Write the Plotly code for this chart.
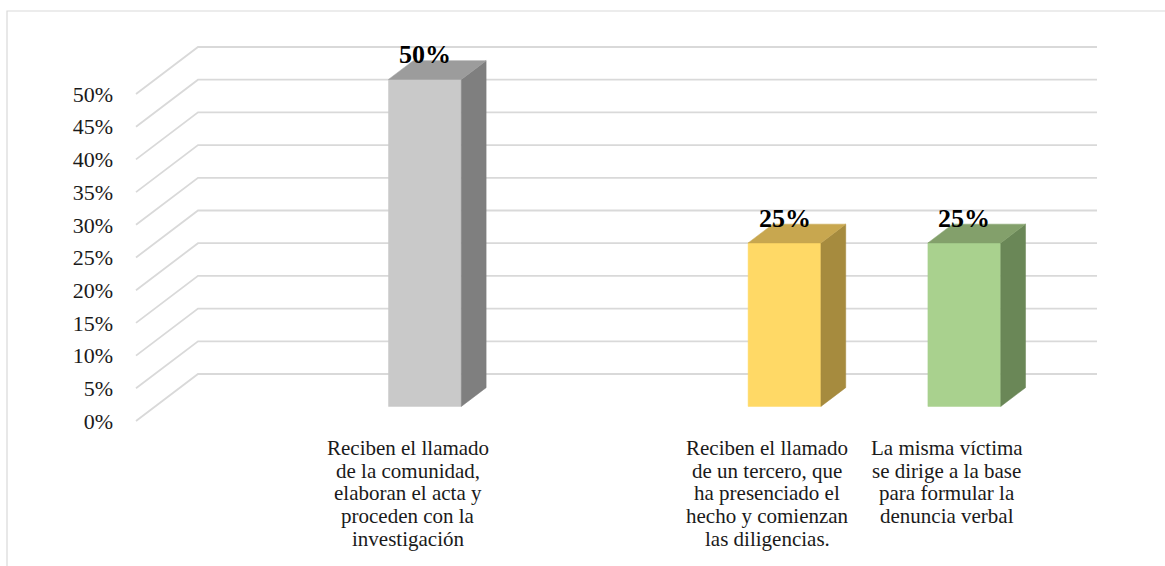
import plotly.graph_objects as go

# ---- data -------------------------------------------------------------
categories = [
    "",
    "Reciben el llamado<br>de la comunidad,<br>elaboran el acta y<br>proceden con la<br>investigación",
    "",
    "Reciben el llamado<br>de un tercero, que<br>ha presenciado el<br>hecho y comienzan<br>las diligencias.",
    "La misma víctima<br>se dirige a la base<br>para formular la<br>denuncia verbal",
]
values = [None, 50, None, 25, 25]          # percent
tick_values = [0, 5, 10, 15, 20, 25, 30, 35, 40, 45, 50]

front_colors = [None, "#C9C9C9", None, "#FFD966", "#A9D18E"]
side_colors = [None, "#7F7F7F", None, "#A68B3E", "#6A8757"]
top_colors = [None, "#9C9C9C", None, "#C8A74F", "#83A06B"]

# ---- layout geometry ----------------------------------------------------
W, H = 1165, 566
ML, MR, MT, MB = 130, 60, 40, 136
PX_PER_CAT = 179.8
PX_PER_PCT = 6.54
ZERO_PX = 421                      # pixel row of 0% on the front plane
DEPTH_X = 62 / PX_PER_CAT          # oblique offset of the back wall (category units)
DEPTH_Y = 47 / PX_PER_PCT          # oblique offset of the back wall (percent units)
BAR_W = 0.405
D_FRONT, D_BACK = 0.31, 0.71       # depth slice occupied by the columns

FONT = "Liberation Serif, Times New Roman, serif"

plot_w = W - ML - MR
plot_h = H - MT - MB
x0 = -0.5 - (136 - ML) / PX_PER_CAT
x_range = [x0, x0 + plot_w / PX_PER_CAT]
y_bottom = -((H - MB) - ZERO_PX) / PX_PER_PCT
y_range = [y_bottom, y_bottom + plot_h / PX_PER_PCT]

n = len(categories)
fig = go.Figure()

# ---- back wall gridlines with oblique floor-to-wall connectors ------------
shapes = []
for t in tick_values:
    path = (f"M {-0.5},{t} L {-0.5 + DEPTH_X},{t + DEPTH_Y} "
            f"L {n - 0.5 + DEPTH_X},{t + DEPTH_Y}")
    shapes.append(dict(type="path", path=path, xref="x", yref="y",
                       line=dict(color="#D9D9D9", width=1.8), layer="below"))

# chart frame
shapes.append(dict(type="rect", xref="paper", yref="paper",
                   x0=(7 - ML) / plot_w, x1=1 + (MR + 20) / plot_w,
                   y0=-(MB + 20) / plot_h, y1=1 + (MT - 11) / plot_h,
                   line=dict(color="#D9D9D9", width=1.2), layer="below"))

# ---- columns ----------------------------------------------------------
annotations = []
for i, v in enumerate(values):
    if v is None:
        continue
    xl_f = i - BAR_W / 2 + D_FRONT * DEPTH_X
    xr_f = i + BAR_W / 2 + D_FRONT * DEPTH_X
    xl_b = i - BAR_W / 2 + D_BACK * DEPTH_X
    xr_b = i + BAR_W / 2 + D_BACK * DEPTH_X
    yb_f = D_FRONT * DEPTH_Y
    yb_b = D_BACK * DEPTH_Y
    yt_f = v + D_FRONT * DEPTH_Y
    yt_b = v + D_BACK * DEPTH_Y

    # front face
    fig.add_trace(go.Scatter(
        x=[xl_f, xr_f, xr_f, xl_f, xl_f], y=[yb_f, yb_f, yt_f, yt_f, yb_f],
        fill="toself", fillcolor=front_colors[i], mode="lines",
        line=dict(width=0.5, color=front_colors[i]), hoverinfo="skip",
        showlegend=False))
    # side face
    fig.add_trace(go.Scatter(
        x=[xr_f, xr_b, xr_b, xr_f, xr_f], y=[yb_f, yb_b, yt_b, yt_f, yb_f],
        fill="toself", fillcolor=side_colors[i], mode="lines",
        line=dict(width=0.5, color=side_colors[i]), hoverinfo="skip",
        showlegend=False))
    # top face
    fig.add_trace(go.Scatter(
        x=[xl_f, xr_f, xr_b, xl_b, xl_f], y=[yt_f, yt_f, yt_b, yt_b, yt_f],
        fill="toself", fillcolor=top_colors[i], mode="lines",
        line=dict(width=0.5, color=top_colors[i]), hoverinfo="skip",
        showlegend=False))

    # value label
    annotations.append(dict(
        x=i + D_FRONT * DEPTH_X, y=yt_f, xref="x", yref="y",
        text=f"<b>{v}%</b>", showarrow=False, yanchor="bottom", yshift=8,
        font=dict(family=FONT, size=26, color="#000000")))

# ---- category labels, one annotation per line --------------------------
LINE_GAP = 22.7
for i, label in enumerate(categories):
    if not label:
        continue
    for k, line in enumerate(label.split("<br>")):
        annotations.append(dict(
            x=i + 0.01, y=0, xref="x", yref="y", text=line, showarrow=False,
            xanchor="center", yanchor="top", yshift=-13 - k * LINE_GAP,
            font=dict(family=FONT, size=21, color="#1A1A1A")))

fig.update_layout(
    width=W, height=H,
    margin=dict(l=ML, r=MR, t=MT, b=MB),
    paper_bgcolor="white", plot_bgcolor="white",
    shapes=shapes, annotations=annotations,
    showlegend=False,
    xaxis=dict(range=x_range, visible=False, fixedrange=True),
    yaxis=dict(range=y_range, tickvals=tick_values,
               ticktext=[f"{t}%" for t in tick_values],
               showgrid=False, zeroline=False, showline=False, ticks="",
               ticklabelstandoff=16,
               tickfont=dict(family=FONT, size=22, color="#1A1A1A"),
               fixedrange=True),
)

fig.write_html("out.html")
